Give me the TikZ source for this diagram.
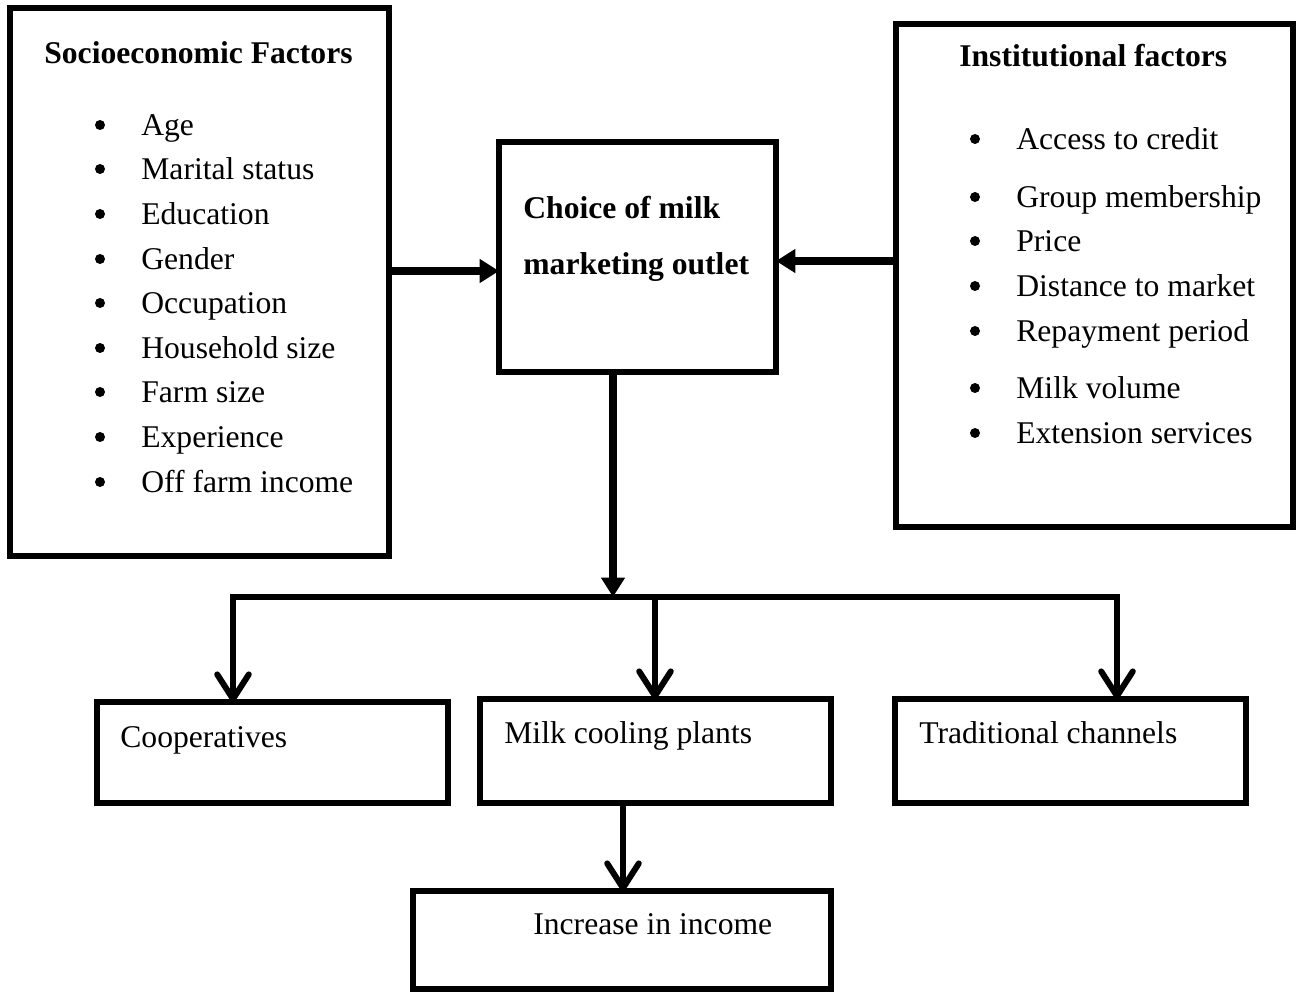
\documentclass[tikz,border=0pt]{standalone}
\usepackage{fontspec}
\setmainfont{Liberation Serif}
\usetikzlibrary{arrows.meta}
\tikzset{
  box/.style={draw, line width=0.11cm, inner sep=0pt, outer sep=0pt},
  txt/.style={anchor=west, inner sep=0pt, font=\fontsize{18}{22}\selectfont, text height=0.7em, text depth=0.25em},
  ttl/.style={txt, font=\fontsize{18}{22}\selectfont\bfseries},
  bul/.style={circle, fill, inner sep=0pt, minimum size=0.2cm},
  tri/.style={line width=0.15cm, -{Triangle[length=11pt, width=13pt]}},
  barb/.style={line width=0.12cm, -{Straight Barb[length=14pt, width=18pt, line cap=round, line join=round]}},
  plain/.style={line width=0.12cm, line cap=rect}
}
\begin{document}
\begin{tikzpicture}[x=0.02cm, y=-0.02cm]
\useasboundingbox (0,0) rectangle (1296,993);
% boxes
\node[box, minimum width=379*0.02cm, minimum height=548*0.02cm] (socio) at (199.5,282) {};
\node[box, minimum width=397*0.02cm, minimum height=503*0.02cm] (inst) at (1094.5,275.5) {};
\node[box, minimum width=277*0.02cm, minimum height=230*0.02cm] (choice) at (637.5,257) {};
\node[box, minimum width=351*0.02cm, minimum height=101*0.02cm] (coop) at (272.5,752.5) {};
\node[box, minimum width=351*0.02cm, minimum height=104*0.02cm] (milk) at (655.5,751) {};
\node[box, minimum width=351*0.02cm, minimum height=104*0.02cm] (trad) at (1070.5,751) {};
\node[box, minimum width=418*0.02cm, minimum height=98*0.02cm] (inc) at (622,940) {};
% left texts
\node[ttl] (t1) at (44,60) {Socioeconomic Factors};
\foreach \y/\t [count=\i] in {125/Age,169/Marital status,214/Education,259/Gender,303/Occupation,348/Household size,392/Farm size,437/Experience,482/Off farm income}{
  \node[bul] (lb\i) at (100,\y) {};
  \node[txt] (lt\i) at (141,\y+7) {\t};
}
% right texts
\node[ttl] (t2) at (959,63) {Institutional factors};
\foreach \y/\t [count=\i] in {139/Access to credit,197/Group membership,241/Price,286/Distance to market,331/Repayment period,388/Milk volume,433/Extension services}{
  \node[bul] (rb\i) at (975,\y) {};
  \node[txt] (rt\i) at (1016,\y+7) {\t};
}
% centre texts
\node[ttl] (c1) at (523,215) {Choice of milk};
\node[ttl] (c2) at (523,271) {marketing outlet};
\node[txt] (o1) at (120,744) {Cooperatives};
\node[txt] (o2) at (504,740) {Milk cooling plants};
\node[txt] (o3) at (919,740) {Traditional channels};
\node[txt] (o4) at (533,931) {Increase in income};
% coordinates
\coordinate (ya) at (0,271);
\coordinate (yb) at (0,261);
\coordinate (j) at (613,597);
\coordinate (jl) at (233,597);
\coordinate (jm) at (655,597);
\coordinate (jr) at (1117,597);
\coordinate (xb) at (623,0);
% connectors
\draw[tri] (socio.east |- ya) -- (choice.west |- ya);
\draw[tri] (inst.west |- yb) -- (choice.east |- yb);
\draw[tri] (choice.south -| j) -- (j);
\draw[plain] (jl) -- (jr);
\draw[barb] (jl) -- (jl |- coop.north);
\draw[barb] (jm) -- (jm |- milk.north);
\draw[barb] (jr) -- (jr |- trad.north);
\draw[barb] (milk.south -| xb) -- (inc.north -| xb);
\end{tikzpicture}
\end{document}
